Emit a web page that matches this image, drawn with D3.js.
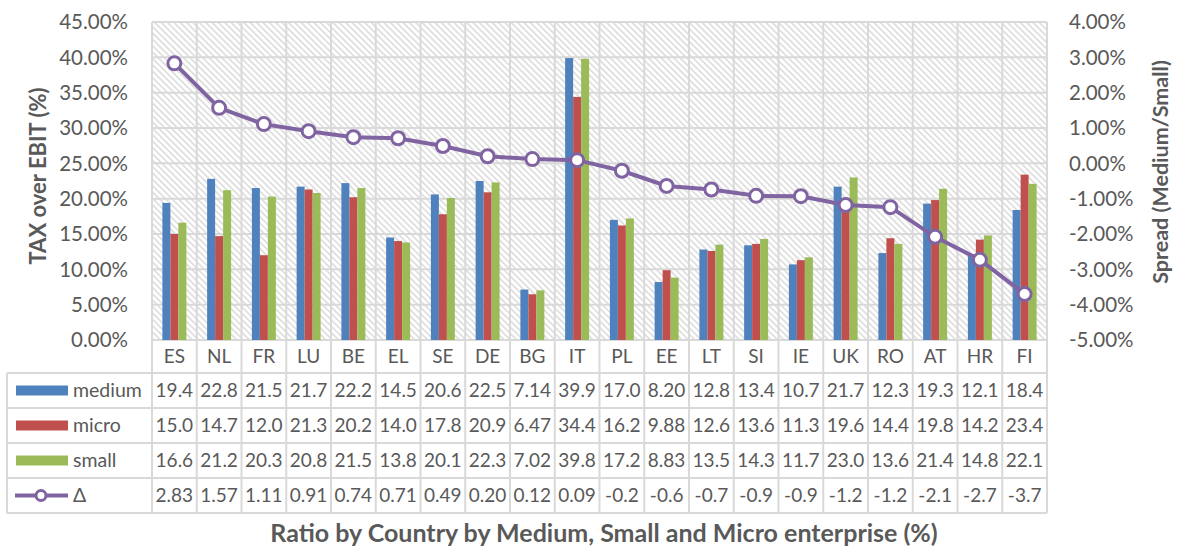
<!DOCTYPE html>
<html>
<head>
<meta charset="utf-8">
<script src="https://cdn.jsdelivr.net/npm/d3@7"></script>
<style>
  body { margin: 0; background: white; }
  text { font-family: Lato, "Open Sans", sans-serif; fill: #595959; }
</style>
</head>
<body>
<div id="chart"></div>
<script>
const countries = ["ES","NL","FR","LU","BE","EL","SE","DE","BG","IT","PL","EE","LT","SI","IE","UK","RO","AT","HR","FI"]
const medium = [19.4,22.8,21.5,21.7,22.2,14.5,20.6,22.5,7.14,39.9,17.0,8.20,12.8,13.4,10.7,21.7,12.3,19.3,12.1,18.4]
const micro  = [15.0,14.7,12.0,21.3,20.2,14.0,17.8,20.9,6.47,34.4,16.2,9.88,12.6,13.6,11.3,19.6,14.4,19.8,14.2,23.4]
const small  = [16.6,21.2,20.3,20.8,21.5,13.8,20.1,22.3,7.02,39.8,17.2,8.83,13.5,14.3,11.7,23.0,13.6,21.4,14.8,22.1]
const delta  = [2.83,1.57,1.11,0.91,0.74,0.71,0.49,0.20,0.12,0.09,-0.21,-0.64,-0.74,-0.92,-0.93,-1.18,-1.24,-2.08,-2.73,-3.70]
const seriesNames = ["medium","micro","small"]
const leftTicks = [0,5,10,15,20,25,30,35,40,45]
const rightTicks = [-5,-4,-3,-2,-1,0,1,2,3,4]

const colors = { medium: "#4F81BD", micro: "#C0504D", small: "#9BBB59", delta: "#8064A2" }
const grid = "#d9d9d9"

const sizing = { width: 1179, height: 549 }
const plot = { left: 152, top: 22, width: 895, height: 318 }
const table = { left: 7, catRow: 33, row: 35 }

const svg = d3.select("#chart").append("svg")
    .attr("width", sizing.width)
    .attr("height", sizing.height)

// hatch pattern of the plot area
const pattern = svg.append("defs").append("pattern")
    .attr("id", "hatch")
    .attr("patternUnits", "userSpaceOnUse")
    .attr("width", 4.5).attr("height", 4.5)
    .attr("patternTransform", "rotate(45)")
pattern.append("rect").attr("width", 4.5).attr("height", 4.5).attr("fill", "white")
pattern.append("line")
    .attr("x1", 0).attr("x2", 4.5).attr("y1", 1).attr("y2", 1)
    .attr("stroke", "#dcdcdc").attr("stroke-width", 1.6)

const x = d3.scaleBand().domain(countries).range([plot.left, plot.left + plot.width])
const x1 = d3.scaleBand().domain(seriesNames).range([0, x.bandwidth()]).paddingOuter(1.3)
const y = d3.scaleLinear().domain([0, 45]).range([plot.top + plot.height, plot.top])
const y2 = d3.scaleLinear().domain([-5, 4]).range([plot.top + plot.height, plot.top])

svg.append("rect")
    .attr("x", plot.left).attr("y", plot.top)
    .attr("width", plot.width).attr("height", plot.height)
    .attr("fill", "url(#hatch)")

const gridG = svg.append("g")
gridG.selectAll(".hg").data(leftTicks).join("line")
    .attr("x1", plot.left).attr("x2", plot.left + plot.width)
    .attr("y1", d => y(d)).attr("y2", d => y(d))
    .attr("stroke", grid).attr("stroke-width", 2)

const bottomTable = plot.top + plot.height + table.catRow + 4 * table.row
const colEdges = countries.map(c => x(c)).concat([plot.left + plot.width])
gridG.selectAll(".vg").data(colEdges).join("line")
    .attr("x1", d => d).attr("x2", d => d)
    .attr("y1", plot.top).attr("y2", bottomTable)
    .attr("stroke", grid).attr("stroke-width", 2)

// table horizontal lines
const rowTops = d3.range(5).map(i => plot.top + plot.height + table.catRow + i * table.row)
gridG.selectAll(".tr").data(rowTops).join("line")
    .attr("x1", table.left).attr("x2", plot.left + plot.width)
    .attr("y1", d => d).attr("y2", d => d)
    .attr("stroke", grid).attr("stroke-width", 2)
gridG.append("line")
    .attr("x1", table.left).attr("x2", table.left)
    .attr("y1", rowTops[0]).attr("y2", bottomTable)
    .attr("stroke", grid).attr("stroke-width", 2)

// bars
const data = { medium, micro, small }
const barsG = svg.append("g")
seriesNames.forEach(s => {
    barsG.selectAll(".b-" + s).data(data[s]).join("rect")
        .attr("x", (d, i) => x(countries[i]) + x1(s))
        .attr("width", x1.bandwidth())
        .attr("y", d => y(d))
        .attr("height", d => y(0) - y(d))
        .attr("fill", colors[s])
})

// delta line
const cx = (d, i) => x(countries[i]) + x.bandwidth() / 2
svg.append("path").datum(delta)
    .attr("d", d3.line().x(cx).y(d => y2(d)))
    .attr("fill", "none").attr("stroke", colors.delta).attr("stroke-width", 4)
svg.append("g").selectAll("circle").data(delta).join("circle")
    .attr("cx", cx).attr("cy", d => y2(d)).attr("r", 6.5)
    .attr("fill", "white").attr("stroke", colors.delta).attr("stroke-width", 3)

// axes labels
svg.append("g").selectAll("text").data(leftTicks).join("text")
    .attr("x", 128).attr("y", d => y(d)).attr("dy", "0.35em")
    .attr("text-anchor", "end").attr("font-size", 20.5)
    .text(d => d.toFixed(2) + "%")
svg.append("g").selectAll("text").data(rightTicks).join("text")
    .attr("x", 1069).attr("y", d => y2(d)).attr("dy", "0.35em")
    .attr("text-anchor", "start").attr("font-size", 20.5)
    .text(d => d.toFixed(2) + "%")

// category row
svg.append("g").selectAll("text").data(countries).join("text")
    .attr("x", d => x(d) + x.bandwidth() / 2)
    .attr("y", plot.top + plot.height + table.catRow / 2).attr("dy", "0.35em")
    .attr("text-anchor", "middle").attr("font-size", 19)
    .text(d => d)

// table values
const fmtBar = d3.format(".3r")
const fmtDelta = d => d < 0 ? d.toFixed(1) : d.toFixed(2)
const rows = [
    { name: "medium", values: medium, fmt: fmtBar },
    { name: "micro", values: micro, fmt: fmtBar },
    { name: "small", values: small, fmt: fmtBar },
    { name: "Δ", values: delta, fmt: fmtDelta }
]
rows.forEach((r, ri) => {
    const cy = rowTops[ri] + table.row / 2
    const g = svg.append("g")
    g.selectAll("text").data(r.values).join("text")
        .attr("x", (d, i) => x(countries[i]) + x.bandwidth() / 2)
        .attr("y", cy).attr("dy", "0.35em")
        .attr("text-anchor", "middle").attr("font-size", 19)
        .text(d => r.fmt(d))
    if (ri < 3) {
        g.append("rect").attr("x", 16).attr("y", cy - 5).attr("width", 52).attr("height", 10)
            .attr("fill", colors[r.name])
    } else {
        g.append("line").attr("x1", 15).attr("x2", 68).attr("y1", cy).attr("y2", cy)
            .attr("stroke", colors.delta).attr("stroke-width", 4)
        g.append("circle").attr("cx", 41).attr("cy", cy).attr("r", 5)
            .attr("fill", "white").attr("stroke", colors.delta).attr("stroke-width", 3)
    }
    g.append("text").attr("x", 73).attr("y", cy).attr("dy", "0.35em")
        .attr("font-size", 19.5).text(r.name)
})

// titles
svg.append("text")
    .attr("transform", `translate(38,176) rotate(-90)`)
    .attr("text-anchor", "middle").attr("dy", "0.35em")
    .attr("font-size", 22).attr("font-weight", "bold")
    .text("TAX over EBIT (%)")
svg.append("text")
    .attr("transform", `translate(1160,172) rotate(-90)`)
    .attr("text-anchor", "middle").attr("dy", "0.35em")
    .attr("font-size", 21.5).attr("font-weight", "bold")
    .text("Spread (Medium/Small)")
svg.append("text")
    .attr("x", 604).attr("y", 533).attr("dy", "0.35em")
    .attr("text-anchor", "middle").attr("font-size", 25).attr("font-weight", "bold")
    .text("Ratio by Country by Medium, Small and Micro enterprise (%)")
</script>
</body>
</html>
